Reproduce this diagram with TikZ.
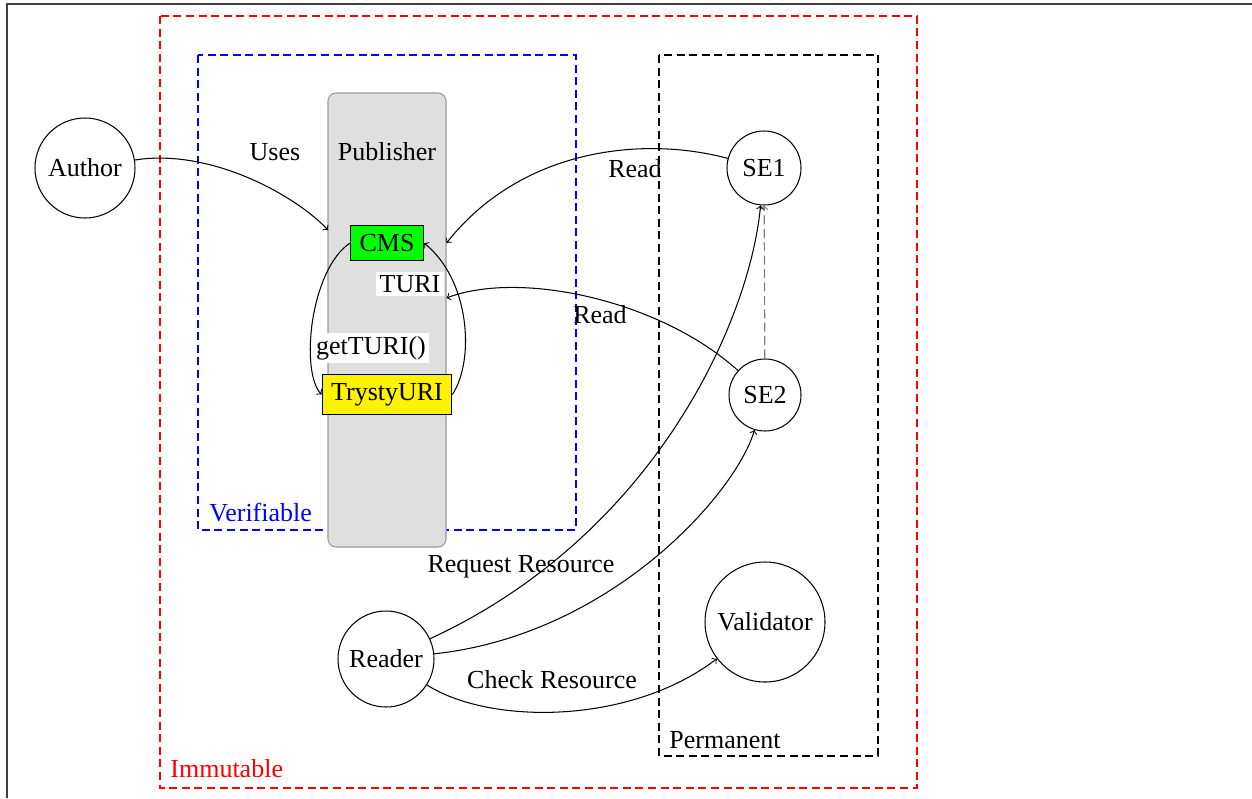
\documentclass[tikz,border=0pt]{standalone}
\usepackage{fontspec}
\setmainfont{Liberation Serif}
\begin{document}
\begin{tikzpicture}[x=0.5pt,y=-0.5pt, font=\fontsize{13}{15.6}\selectfont, >=to,
  circ/.style={draw, circle, inner sep=0pt, line width=0.52pt},
  box/.style={draw, line width=0.52pt, inner sep=4.5pt},
  txt/.style={inner sep=0pt},
  wlbl/.style={fill=white, inner sep=1.7pt},
  region/.style={line width=1pt, dash pattern=on 4pt off 2.3pt},
  conn/.style={->, line width=0.52pt}]
\useasboundingbox (0,0) rectangle (1252,798);
\draw[line width=0.6pt, black!75] (1252,4) -- (7,4) -- (7,798);

% regions
\draw[region, red] (160,16) rectangle (917,788);
\draw[region, blue] (198,55) rectangle (576,530);
\draw[region, black] (659,55) rectangle (878,756);
\node[txt, anchor=base west, red] (immutable) at (170,777) {Immutable};
\node[txt, anchor=base west, blue] (verifiable) at (209,521) {Verifiable};
\node[txt, anchor=base west] (permanent) at (669,748) {Permanent};

% publisher
\node[draw=gray!80, fill=gray!25, rounded corners=4pt, minimum width=59pt,
      minimum height=227pt, line width=0.52pt] (pub) at (387,320) {};
\node[txt, anchor=base] (publabel) at (387,160) {Publisher};
\node[box, fill=green] (cms) at (387,243) {CMS};
\node[box, fill=yellow] (trusty) at (387,394.5) {TrystyURI};

% actors
\node[circ, minimum size=50pt] (author) at (85,168) {Author};
\node[circ, minimum size=37pt] (se1) at (764,168) {SE1};
\node[circ, minimum size=36pt] (se2) at (765,395) {SE2};
\node[circ, minimum size=60pt] (validator) at (765,622) {Validator};
\node[circ, minimum size=48pt] (reader) at (386,659) {Reader};

\coordinate (usesEnd) at (328,230);
\coordinate (r1End) at (446.5,243);
\coordinate (r2End) at (446.5,298);

% connectors
\draw[->, gray, line width=0.6pt, dash pattern=on 4.5pt off 2.2pt] (se2) -- (se1);
\draw[conn] (author) .. controls (210,148) and (295,195) .. (usesEnd);
\draw[conn] (se1) .. controls (640,135) and (520,150) .. (r1End);
\draw[conn] (se2) .. controls (660,300) and (520,270) .. (r2End);
\draw[conn] (cms.west) .. controls (310,270) and (300,372) .. (trusty.west);
\draw[conn] (trusty.east) .. controls (475,360) and (470,280) .. (cms.east);
\draw[conn] (reader) .. controls (655,535) and (750,320) .. (se1);
\draw[conn] (reader) .. controls (610,635) and (735,495) .. (se2);
\draw[conn] (reader) .. controls (490,725) and (630,725) .. (validator);

% labels
\node[txt, anchor=base] (uses) at (275,160) {Uses};
\node[txt, anchor=base] (read1) at (635,177) {Read};
\node[txt, anchor=base] (read2) at (600,323) {Read};
\node[txt, anchor=base] (req) at (521,572) {Request Resource};
\node[txt, anchor=base] (check) at (552,688) {Check Resource};
\node[wlbl, anchor=base] (turi) at (410,292) {TURI};
\node[wlbl, anchor=base] (getturi) at (371,354) {getTURI()};
\end{tikzpicture}
\end{document}
